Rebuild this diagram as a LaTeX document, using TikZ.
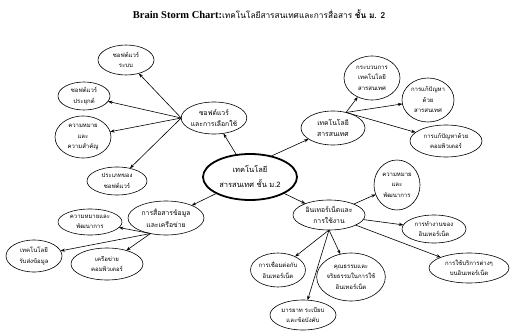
\documentclass[tikz,border=0pt]{standalone}
\usepackage{fontspec}
\setmainfont{Liberation Serif}
\newfontfamily\thaifont[Script=Thai]{Loma}
\usetikzlibrary{shapes.geometric,arrows.meta}

\begin{document}
\begin{tikzpicture}[x=1pt,y=-1pt,
  bubble/.style={draw, ellipse, line width=0.6pt, inner sep=0pt, outer sep=0pt,
    align=center, font=\thaifont\fontsize{6}{10.5}\selectfont},
  hub/.style={bubble, font=\thaifont\fontsize{6.8}{11.5}\selectfont},
  core/.style={bubble, line width=1.8pt, font=\thaifont\fontsize{7.5}{15}\selectfont},
  link/.style={-{Stealth[length=4.5pt,width=3.2pt]}, line width=0.6pt}
]
\useasboundingbox (0,0) rectangle (510,331);

% heading
\node[anchor=base, inner sep=0pt] (title) at (259,19)
  {\bfseries\fontsize{10.5}{12}\selectfont Brain Storm Chart:{\thaifont\mdseries\fontsize{8.3}{10}\selectfont เทคโนโลยีสารสนเทศและการสื่อสาร} {\thaifont\fontsize{8.3}{10}\selectfont ชั้น ม. 2}};

% central topic
\node[core, minimum width=94, minimum height=46] (core) at (250,177) {เทคโนโลยี\\สารสนเทศ ชั้น ม.2};

% software branch
\node[hub, minimum width=64, minimum height=32] (sw) at (214,118) {ซอฟต์แวร์\\และการเลือกใช้};
\node[bubble, minimum width=56, minimum height=30] (sys) at (126,60) {ซอฟต์แวร์\\ระบบ};
\node[bubble, minimum width=52, minimum height=28] (app) at (84,96) {ซอฟต์แวร์\\ประยุกต์};
\node[bubble, minimum width=56, minimum height=42] (swmean) at (83,137) {ความหมาย\\และ\\ความสำคัญ};
\node[bubble, minimum width=60, minimum height=28] (swtype) at (117,181) {ประเภทของ\\ซอฟต์แวร์};

% information technology branch
\node[hub, minimum width=64, minimum height=34] (ict) at (333,128) {เทคโนโลยี\\สารสนเทศ};
\node[bubble, minimum width=56, minimum height=44] (proc) at (372,78) {กระบวนการ\\เทคโนโลยี\\สารสนเทศ};
\node[bubble, minimum width=52, minimum height=44] (solve) at (428,100) {การแก้ปัญหา\\ด้วย\\สารสนเทศ};
\node[bubble, minimum width=72, minimum height=32] (comp) at (446,141) {การแก้ปัญหาด้วย\\คอมพิวเตอร์};

% communication branch
\node[hub, minimum width=76, minimum height=34] (comm) at (166,218) {การสื่อสารข้อมูล\\และเครือข่าย};
\node[bubble, minimum width=64, minimum height=26] (cmean) at (90,222) {ความหมายและ\\พัฒนาการ};
\node[bubble, minimum width=56, minimum height=32] (trans) at (34,256) {เทคโนโลยี\\รับส่งข้อมูล};
\node[bubble, minimum width=72, minimum height=32] (net) at (107,264) {เครือข่าย\\คอมพิวเตอร์};

% internet branch
\node[hub, minimum width=72, minimum height=30] (inet) at (329,215) {อินเทอร์เน็ตและ\\การใช้งาน};
\node[bubble, minimum width=46, minimum height=50] (imean) at (397,185) {ความหมาย\\และ\\พัฒนาการ};
\node[bubble, minimum width=64, minimum height=28] (iwork) at (434,229) {การทำงานของ\\อินเทอร์เน็ต};
\node[bubble, minimum width=80, minimum height=30] (iserv) at (469,268) {การใช้บริการต่างๆ\\บนอินเทอร์เน็ต};
\node[bubble, minimum width=50, minimum height=34] (iconn) at (278,270) {การเชื่อมต่อกับ\\อินเทอร์เน็ต};
\node[bubble, minimum width=66, minimum height=48] (ethic) at (351,277) {คุณธรรมและ\\จริยธรรมในการใช้\\อินเทอร์เน็ต};
\node[bubble, minimum width=66, minimum height=30] (manner) at (303,315) {มารยาท ระเบียบ\\และข้อบังคับ};

% connectors
\draw[link] (core) -- (sw);
\draw[link] (core.45) -- (ict);
\draw[link] (core) -- (comm);
\draw[link] (core) -- (inet);

\foreach \n in {sys,app,swmean,swtype} \draw[link] (sw.west) -- (\n);
\foreach \n in {proc,solve,comp} \draw[link] (ict.50) -- (\n);
\foreach \n in {cmean,trans,net} \draw[link] (comm.225) -- (\n);
\foreach \n in {imean,iwork,iserv} \draw[link] (inet) -- (\n);
\foreach \n in {iconn,ethic,manner} \draw[link] (inet.south) -- (\n);
\end{tikzpicture}
\end{document}
